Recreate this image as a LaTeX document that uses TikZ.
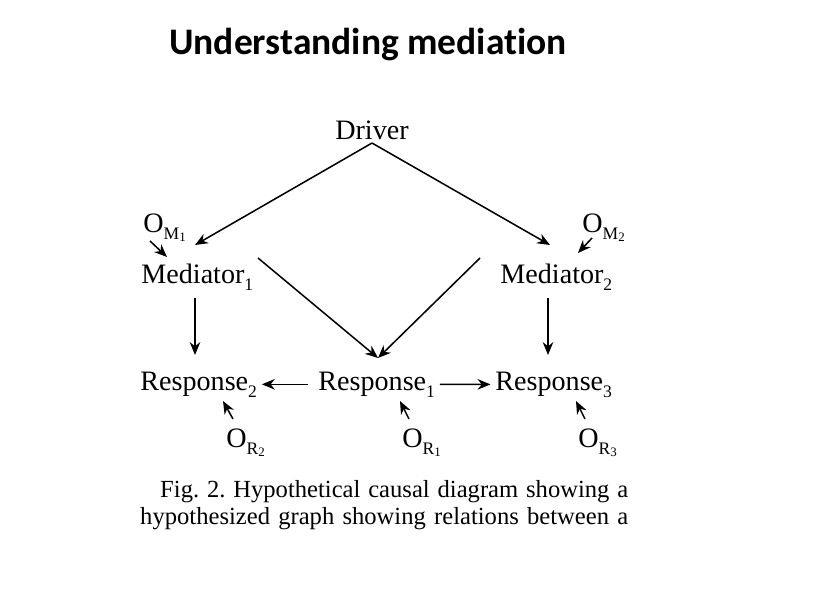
\documentclass[tikz,border=0pt]{standalone}
\usepackage{fontspec}
\setmainfont{Liberation Serif}
\newfontfamily\titlefont[Ligatures=NoCommon]{Carlito}
\usetikzlibrary{arrows.meta}

% lowered index, and a lowered index with an index of its own
\newcommand{\idx}[1]{\raisebox{-0.25em}{\fontsize{15}{15}\selectfont #1}}
\newcommand{\oidx}[2]{O\raisebox{-0.28em}{\fontsize{15}{15}\selectfont #1\raisebox{-0.08em}{\fontsize{11}{11}\selectfont #2}}}

\tikzset{
    var/.style={font=\fontsize{24}{28}\selectfont, inner sep=1pt},
    noise/.style={font=\fontsize{24}{28}\selectfont, inner sep=1pt},
    arr/.style={-{Stealth[length=11pt, width=9pt]}, line width=1.3pt},
}

\begin{document}
\begin{tikzpicture}[x=0.03cm, y=-0.03cm]
    \useasboundingbox (0, 0) rectangle (816, 611);

    \node [font=\titlefont\bfseries\fontsize{32}{36}\selectfont] (title) at (368, 45) {Understanding mediation};

    % variables
    \node [var, anchor=base]      (drv)  at (372, 139) {Driver};
    \node [var, anchor=base west] (med1) at (140, 283) {Mediator\idx{1}};
    \node [var, anchor=base west] (med2) at (499, 283) {Mediator\idx{2}};
    \node [var, anchor=base west] (res2) at (139, 390) {Response\idx{2}};
    \node [var, anchor=base west] (res1) at (317, 390) {Response\idx{1}};
    \node [var, anchor=base west] (res3) at (494, 390) {Response\idx{3}};

    % other causes
    \node [noise, anchor=base west] (om1) at (142, 232) {\oidx{M}{1}};
    \node [noise, anchor=base west] (om2) at (581, 232) {\oidx{M}{2}};
    \node [noise, anchor=base west] (or2) at (225, 447) {\oidx{R}{2}};
    \node [noise, anchor=base west] (or1) at (401, 447) {\oidx{R}{1}};
    \node [noise, anchor=base west] (or3) at (577, 447) {\oidx{R}{3}};

    \draw [arr] ([yshift=-2pt]drv.south) -- ([shift={(55, -38)}]med1.base west);
    \draw [arr] ([yshift=-2pt]drv.south) -- ([shift={(51, -38)}]med2.base west);
    \draw [arr] ([shift={(118, -25)}]med1.base west) -- ([shift={(61, -32)}]res1.base west);
    \draw [arr] ([shift={(-19, -25)}]med2.base west) -- ([shift={(61, -32)}]res1.base west);
    \draw [arr] ([shift={(55, 15)}]med1.base west) -- ([shift={(56, -35)}]res2.base west);
    \draw [arr] ([shift={(49, 15)}]med2.base west) -- ([shift={(54, -35)}]res3.base west);
    \draw [arr, shorten <=8pt, shorten >=3pt] (res1.west) -- (res2.east);
    \draw [arr, shorten <=3pt, shorten >=3pt] (res1.east) -- (res3.west);

    \draw [arr] ([shift={(8, 9)}]om1.base west) -- ([shift={(27, -26)}]med1.base west);
    \draw [arr] ([shift={(11, 6)}]om2.base west) -- ([shift={(79, -30)}]med2.base west);
    \foreach \o/\r/\dx in {or2/res2/84, or1/res1/83, or3/res3/82} {
        \draw [arr] ([shift={(8, -28)}]\o.base west) -- ([shift={(\dx, 11)}]\r.base west);
        }

    % caption
    \node [anchor=north west, align=left, inner sep=0pt,
           font=\fontsize{21}{23}\selectfont] (cap) at (140, 480)
        {\makebox[14.64cm][s]{\hspace*{0.6cm}Fig.\ 2.\ Hypothetical causal diagram showing a}\\
         \makebox[14.64cm][s]{hypothesized graph showing relations between a}};
\end{tikzpicture}
\end{document}
